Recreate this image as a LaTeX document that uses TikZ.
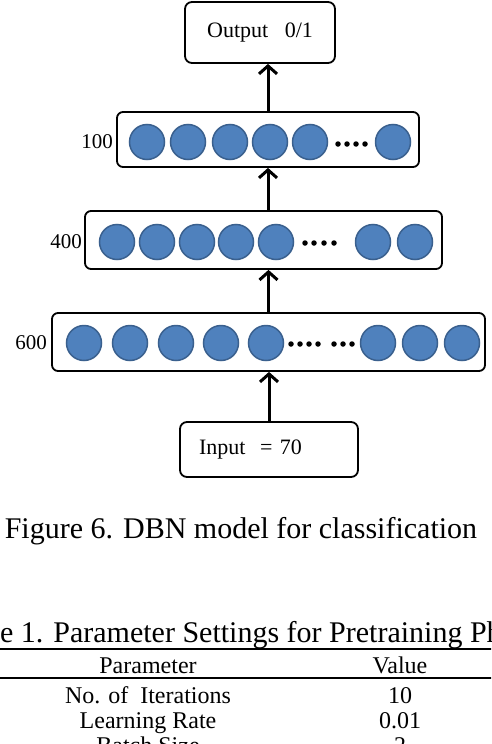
\documentclass[tikz,border=0pt]{standalone}
\usepackage{fontspec}
\setmainfont{Liberation Serif}
\usetikzlibrary{arrows.meta,positioning}
\definecolor{unitfill}{RGB}{79,129,189}
\definecolor{unitdraw}{RGB}{58,96,142}

\begin{document}
\begin{tikzpicture}[x=1pt,y=-1pt,>={Straight Barb[length=8pt,width=18pt]}]
        \tikzstyle{layer}=[rectangle,rounded corners=6pt,draw,line width=1.8pt,inner sep=0pt]
        \tikzstyle{io}=[rectangle,rounded corners=7pt,draw,line width=1.8pt,font=\fontsize{22}{26}\selectfont]
        \tikzstyle{unit}=[circle,draw=unitdraw,line width=1.5pt,fill=unitfill,minimum size=35pt,inner sep=0pt]
        \tikzstyle{dot}=[circle,fill,inner sep=0pt,minimum size=5.5pt]
        \tikzstyle{count}=[font=\fontsize{21}{25}\selectfont,inner sep=0pt,anchor=east]
        \tikzstyle{feed}=[->,line width=3pt]
        \tikzstyle{cell}=[font=\fontsize{24}{28}\selectfont,inner sep=0pt,anchor=base]

        \useasboundingbox (0,0) rectangle (491,744);
        \clip (0,0) rectangle (491,744);

        \node [io,minimum width=150pt,minimum height=61pt] (out) at (260,32.5) {Output\ \ \ 0/1}; %output

        \node [layer,minimum width=302pt,minimum height=55pt] (l100) at (268,139.5) {}; %layer 100
        \foreach \x [count=\i] in {147,188,230,270,310,393}
            \node [unit] (u100\i) at (\x,142) {};
        \foreach \x [count=\i] in {338,347,356,365}
            \node [dot] (d100\i) at (\x,144) {};
        \node [count] (c100) at ([xshift=-3pt]l100.west |- u1001) {100};

        \node [layer,minimum width=357pt,minimum height=58pt] (l400) at (263.5,240) {}; %layer 400
        \foreach \x [count=\i] in {117,157,197,236,276,373,415}
            \node [unit] (u400\i) at (\x,242) {};
        \foreach \x [count=\i] in {305,314,324,334}
            \node [dot] (d400\i) at (\x,243) {};
        \node [count] (c400) at ([xshift=-2pt]l400.west |- u4001) {400};

        \node [layer,minimum width=433pt,minimum height=58pt] (l600) at (268.5,342) {}; %layer 600
        \foreach \x [count=\i] in {84,130,176,221,266,378,420,462}
            \node [unit] (u600\i) at (\x,343) {};
        \foreach \x [count=\i] in {291,300,309,318,334,343,352}
            \node [dot] (d600\i) at (\x,344) {};
        \node [count] (c600) at ([xshift=-4pt]l600.west |- u6001) {600};

        \node [io,minimum height=55pt,text width=140pt,align=left,inner xsep=19pt] (inp) at (269,449.5) {Input\ \ = 70}; %input

        \draw [feed] (l100.north) -- (l100.north |- out.south);
        \draw [feed] (l400.north -| l100) -- (l100.south);
        \draw [feed] (l600.north) -- (l600.north |- l400.south);
        \draw [feed] (inp.north) -- (inp.north |- l600.south);

        \node [font=\fontsize{30}{36}\selectfont,inner sep=0pt,anchor=base] (cap) at (241,538) {Figure 6. DBN model for classification};

        %table
        \node [font=\fontsize{30}{36}\selectfont,inner sep=0pt,anchor=base west] (ttl) at (-53,642) {Table 1. Parameter Settings for Pretraining Phase};
        \draw [line width=1.6pt] (-10,649) -- (501,649);
        \node [cell] (h1) at (148,673) {Parameter};
        \node [cell] (h2) at (400,673) {Value};
        \draw [line width=1.2pt] (-10,678) -- (501,678);
        \node [cell] (r11) at (148,703) {No. of\ \ Iterations};
        \node [cell] (r12) at (400,703) {10};
        \node [cell] (r21) at (148,728) {Learning Rate};
        \node [cell] (r22) at (400,728) {0.01};
        \node [cell] (r31) at (148,753) {Batch Size};
        \node [cell] (r32) at (400,753) {2};
\end{tikzpicture}
\end{document}
